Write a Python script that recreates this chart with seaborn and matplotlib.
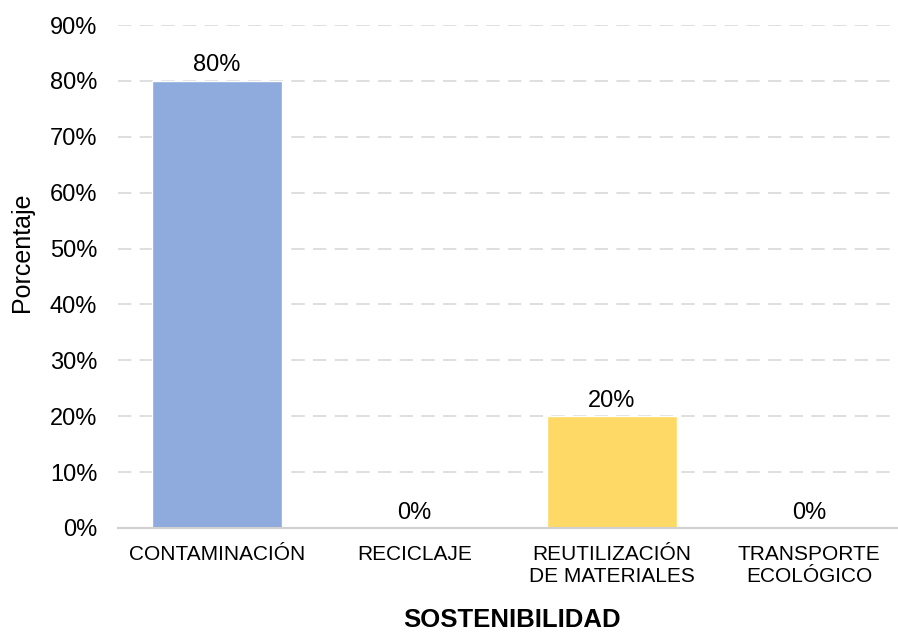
import matplotlib
matplotlib.use("Agg")
import matplotlib.pyplot as plt
import seaborn as sns
import pandas as pd

categories = ["CONTAMINACIÓN", "RECICLAJE", "REUTILIZACIÓN\nDE MATERIALES", "TRANSPORTE\nECOLÓGICO"]
values = [0.80, 0.00, 0.20, 0.00]
bar_colors = ["#8FAADC", "#A5A5A5", "#FFD966", "#5B9BD5"]
y_ticks = [0, 0.1, 0.2, 0.3, 0.4, 0.5, 0.6, 0.7, 0.8, 0.9]
y_label = "Porcentaje"
x_label = "SOSTENIBILIDAD"

sns.set_theme(style="white")
plt.rcParams["font.family"] = ["Liberation Sans", "DejaVu Sans"]

df = pd.DataFrame({"cat": categories, "val": values})

fig = plt.figure(figsize=(8.98, 6.33), dpi=100)
W, H = 898, 633
ax = fig.add_axes([118 / W, (H - 528) / H, (898 - 118) / W, (528 - 25) / H])

sns.barplot(data=df, x="cat", y="val", hue="cat", palette=bar_colors,
            legend=False, width=0.66, ax=ax, saturation=1)

ax.set_ylim(0, 0.9)
ax.set_xlim(-0.5, 3.45)
ax.set_yticks(y_ticks)
ax.set_yticklabels([f"{int(round(t*100))}%" for t in y_ticks], fontsize=17, color="#000000")
ax.tick_params(axis="x", labelsize=15, colors="#000000", length=0, pad=12)
ax.tick_params(axis="y", length=0, pad=15)
for lbl in ax.get_xticklabels():
    lbl.set_linespacing(1.25)

ax.grid(axis="y", color="#D9D9D9", linestyle=(0, (8, 5)), linewidth=1.2)
ax.set_axisbelow(True)
for s in ["top", "right", "left"]:
    ax.spines[s].set_visible(False)
ax.spines["bottom"].set_color("#D0D0D0")
ax.spines["bottom"].set_linewidth(1.5)

for i, v in enumerate(values):
    ax.text(i, v + 0.008, f"{int(round(v*100))}%", ha="center", va="bottom", fontsize=17, color="#000000")

ax.set_ylabel(y_label, fontsize=18, color="#000000")
ax.yaxis.set_label_coords((22 - 118) / 780, (528 - 252) / 503)
ax.yaxis.label.set_va("center")
ax.set_xlabel(x_label, fontsize=18.5, fontweight="bold", color="#000000")
ax.xaxis.set_label_coords((512 - 118) / 780, (528 - 620) / 503)
ax.xaxis.label.set_va("center")

fig.savefig("out.png", dpi=100)
